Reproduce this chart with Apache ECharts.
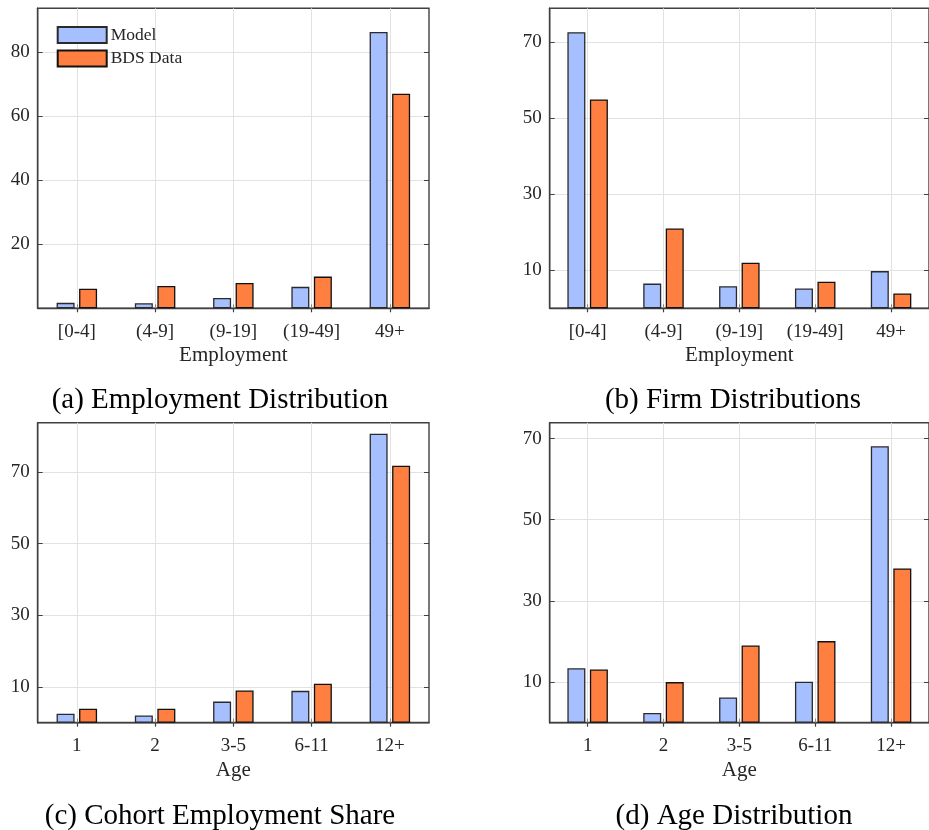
<!DOCTYPE html>
<html>
<head>
<meta charset="utf-8">
<script src="https://cdn.jsdelivr.net/npm/echarts@6/dist/echarts.min.js"></script>
<style>
  html, body { margin: 0; padding: 0; background: #fff; overflow: hidden; }
  #chart { width: 929px; height: 830px; }
</style>
</head>
<body>
<div id="chart"></div>
<script>
// Size and age categories
const sizeCategories = ['[0-4]', '(4-9]', '(9-19]', '(19-49]', '49+'];
const ageCategories = ['1', '2', '3-5', '6-11', '12+'];

// (a) Employment distribution by firm size (%)
const empModel = [1.7, 1.6, 3.2, 6.7, 86.3];
const empBDS = [6.1, 7.0, 7.9, 9.9, 67.0];

// (b) Firm distribution by firm size (%)
const firmModel = [72.7, 6.5, 5.8, 5.2, 9.8];
const firmBDS = [55.0, 21.0, 12.0, 7.0, 3.9];

// (c) Cohort employment share by age (%)
const cohortModel = [2.5, 2.0, 5.9, 8.9, 80.7];
const cohortBDS = [3.9, 3.9, 9.0, 10.9, 71.8];

// (d) Age distribution (%)
const ageModel = [13.4, 2.4, 6.2, 10.1, 68.1];
const ageBDS = [13.1, 10.0, 19.0, 20.1, 38.0];

// Y tick labels per panel
const ticksA = [20, 40, 60, 80];
const ticksB = [10, 30, 50, 70];
const ticksC = [10, 30, 50, 70];
const ticksD = [10, 30, 50, 70];

const seriesNames = ['Model', 'BDS Data'];

const FONT = "'Liberation Serif', 'Times New Roman', serif";
const AX = '#404040';
const TXT = '#262626';
const GRIDC = '#e2e2e2';
const BLUE = '#a6bfff';
const ORANGE = '#ff7f40';

const panels = [
  { cats: sizeCategories, model: empModel, bds: empBDS, ticks: ticksA, yMax: 93.7,
    grid: { left: 37.7, top: 8.3, width: 391.3, height: 300 }, name: 'Employment',
    caption: '(a) Employment Distribution', capX: 220, capY: 400 },
  { cats: sizeCategories, model: firmModel, bds: firmBDS, ticks: ticksB, yMax: 79,
    grid: { left: 549.7, top: 8.3, width: 391.8, height: 300 }, name: 'Employment',
    caption: '(b) Firm Distributions', capX: 733, capY: 400 },
  { cats: ageCategories, model: cohortModel, bds: cohortBDS, ticks: ticksC, yMax: 83.8,
    grid: { left: 37.7, top: 422.7, width: 391.3, height: 300 }, name: 'Age',
    caption: '(c) Cohort Employment Share', capX: 220, capY: 816 },
  { cats: ageCategories, model: ageModel, bds: ageBDS, ticks: ticksD, yMax: 73.9,
    grid: { left: 549.7, top: 422.7, width: 391.8, height: 300 }, name: 'Age',
    caption: '(d) Age Distribution', capX: 734, capY: 816 }
];

const grids = [], xAxes = [], yAxes = [], series = [], graphics = [];

panels.forEach((p, i) => {
  grids.push(Object.assign({ show: true, borderColor: AX, borderWidth: 1.4, containLabel: false }, p.grid));

  // bottom category axis
  xAxes.push({
    type: 'category', gridIndex: i, position: 'bottom', data: p.cats,
    axisLine: { show: true, lineStyle: { color: AX, width: 1.4 } },
    axisTick: { show: true, inside: true, alignWithLabel: true, length: 4, lineStyle: { color: '#888' } },
    axisLabel: { fontFamily: FONT, fontSize: 19, color: TXT, margin: 14, interval: 0 },
    splitLine: { show: true, alignWithLabel: true, interval: 0, lineStyle: { color: GRIDC, width: 1 } },
    name: p.name, nameLocation: 'middle', nameGap: 37,
    nameTextStyle: { fontFamily: FONT, fontSize: 21, color: TXT }
  });
  // top ticks of the box
  xAxes.push({
    type: 'category', gridIndex: i, position: 'top', data: p.cats,
    axisLine: { show: false },
    axisTick: { show: true, inside: true, alignWithLabel: true, length: 4, lineStyle: { color: AX, width: 1.2 } },
    axisLabel: { show: false }, splitLine: { show: false }
  });

  yAxes.push({
    type: 'value', gridIndex: i, position: 'left', min: 0, max: p.yMax,
    axisLine: { show: true, lineStyle: { color: AX, width: 1.4 } },
    axisTick: { show: true, inside: true, length: 5, customValues: p.ticks, lineStyle: { color: AX } },
    axisLabel: { customValues: p.ticks, fontFamily: FONT, fontSize: 19, color: TXT, margin: 8 },
    splitLine: { show: true, lineStyle: { color: GRIDC, width: 1 } }
  });
  yAxes.push({
    type: 'value', gridIndex: i, position: 'right', min: 0, max: p.yMax,
    axisLine: { show: false },
    axisTick: { show: true, inside: true, length: 5, customValues: p.ticks, lineStyle: { color: AX } },
    axisLabel: { show: false }, splitLine: { show: false }
  });

  const xi = i * 2, yi = i * 2;
  series.push({
    type: 'bar', name: seriesNames[0], xAxisIndex: xi, yAxisIndex: yi, data: p.model,
    barWidth: 18, barGap: '25%',
    itemStyle: { color: BLUE, borderColor: '#2a2a2a', borderWidth: 1.3 }
  });
  series.push({
    type: 'bar', name: seriesNames[1], xAxisIndex: xi, yAxisIndex: yi, data: p.bds,
    barWidth: 18, barGap: '25%',
    itemStyle: { color: ORANGE, borderColor: '#111', borderWidth: 1.3 }
  });

  graphics.push({
    type: 'text', x: p.capX, y: p.capY,
    style: { text: p.caption, fontFamily: FONT, fontSize: 29, fill: '#000',
             align: 'center', verticalAlign: 'middle' }
  });
});

const chart = echarts.init(document.getElementById('chart'), null, { renderer: 'canvas' });
chart.setOption({
  animation: false,
  backgroundColor: '#fff',
  grid: grids,
  xAxis: xAxes,
  yAxis: yAxes,
  series: series,
  legend: {
    data: seriesNames, orient: 'vertical', left: 56.7, top: 26, padding: 0,
    itemWidth: 49, itemHeight: 16, itemGap: 5.5, icon: 'rect',
    textStyle: { fontFamily: FONT, fontSize: 17.5, color: TXT, padding: [0, 0, 0, -1] }
  },
  graphic: graphics
});
</script>
</body>
</html>
